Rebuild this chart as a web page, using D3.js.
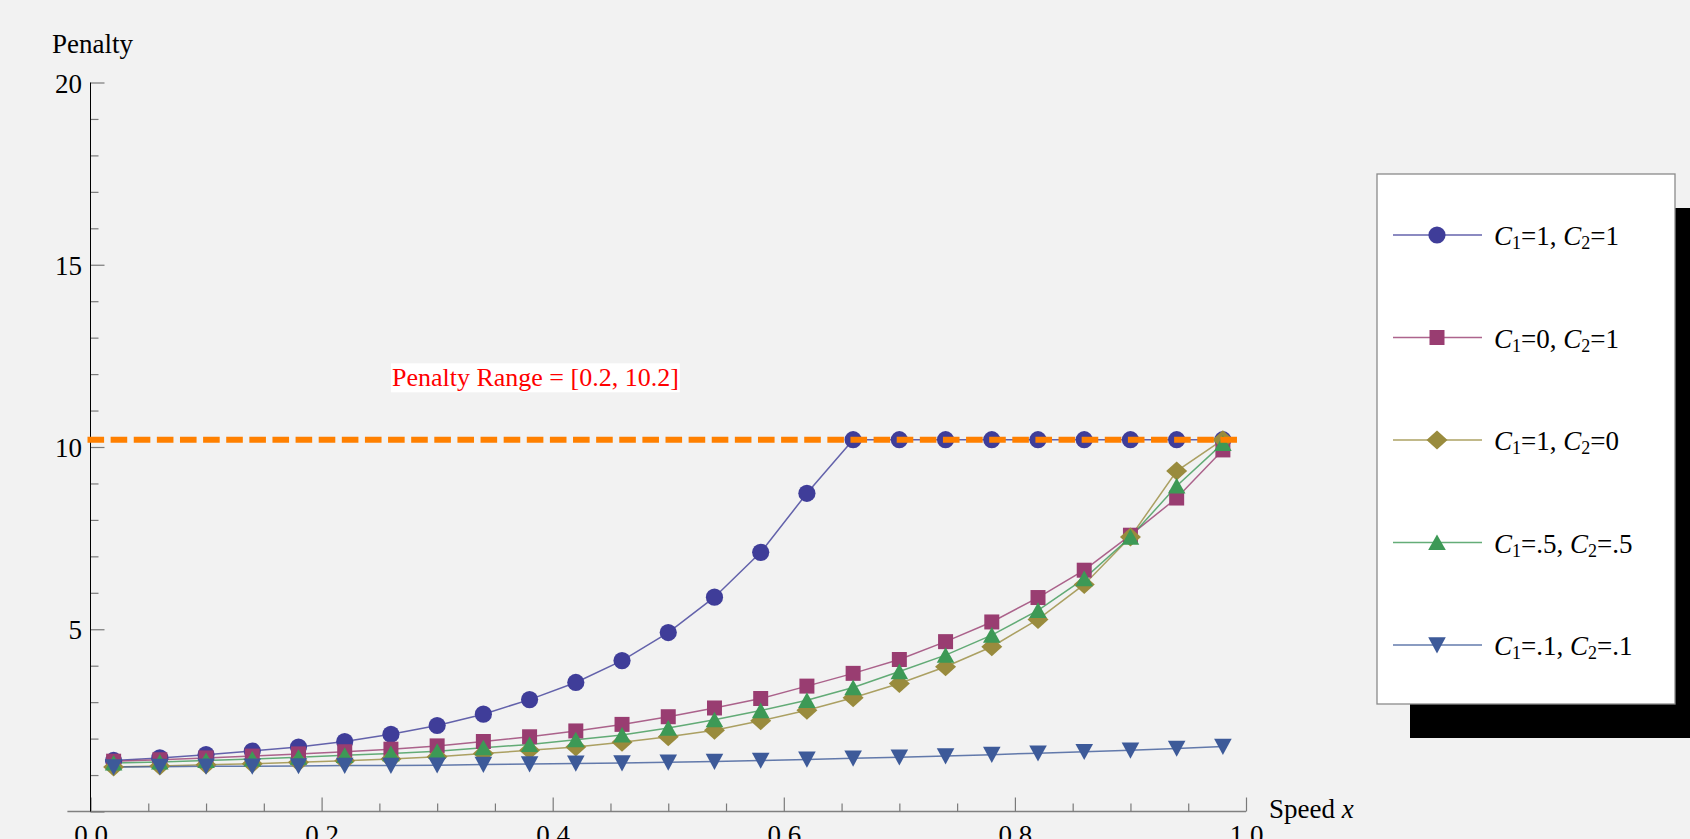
<!DOCTYPE html>
<html>
<head>
<meta charset="utf-8">
<script src="https://cdn.jsdelivr.net/npm/d3@7"></script>
<style>
    body { margin: 0; background: #f2f2f2; }
    svg { display: block; font-family: "Liberation Serif", "Times New Roman", serif; }
</style>
</head>
<body>
<div id="chart"></div>
<script>
let speedX = [0.02, 0.06, 0.10, 0.14, 0.18, 0.22, 0.26, 0.30, 0.34, 0.38, 0.42, 0.46, 0.50,
    0.54, 0.58, 0.62, 0.66, 0.70, 0.74, 0.78, 0.82, 0.86, 0.90, 0.94, 0.98];

// one array per curve
let penaltyC1_1_C2_1 = [1.40, 1.47, 1.56, 1.66, 1.77, 1.92, 2.12, 2.36, 2.67, 3.07, 3.54, 4.14, 4.91,
    5.88, 7.11, 8.73, 10.2, 10.2, 10.2, 10.2, 10.2, 10.2, 10.2, 10.2, 10.2];
let penaltyC1_0_C2_1 = [1.38, 1.42, 1.47, 1.52, 1.58, 1.64, 1.71, 1.80, 1.92, 2.05, 2.21, 2.39, 2.60,
    2.84, 3.10, 3.44, 3.79, 4.17, 4.66, 5.20, 5.87, 6.62, 7.58, 8.60, 9.92];
let penaltyC1_1_C2_0 = [1.22, 1.25, 1.28, 1.31, 1.35, 1.39, 1.44, 1.50, 1.59, 1.68, 1.77, 1.90, 2.05,
    2.23, 2.49, 2.78, 3.12, 3.51, 3.97, 4.52, 5.27, 6.23, 7.53, 9.34, 10.2];
let penaltyC1_5_C2_5 = [1.33, 1.36, 1.40, 1.44, 1.49, 1.54, 1.59, 1.65, 1.75, 1.84, 1.97, 2.10, 2.29,
    2.52, 2.77, 3.05, 3.40, 3.84, 4.29, 4.84, 5.52, 6.39, 7.53, 8.93, 10.1];
let penaltyC1_1_C2_1small = [1.22, 1.23, 1.24, 1.24, 1.25, 1.26, 1.26, 1.27, 1.29, 1.30, 1.32, 1.33, 1.35,
    1.37, 1.40, 1.43, 1.46, 1.49, 1.52, 1.56, 1.60, 1.64, 1.68, 1.73, 1.78];

let legendC1 = ["1", "0", "1", ".5", ".1"];
let legendC2 = ["1", "1", "0", ".5", ".1"];

let penaltyCap = 10.2;
let capLineX = [0, 0.99];
let rangeNote = "Penalty Range = [0.2, 10.2]";
let rangeNoteAt = [0.385, 11.9];

let xTickValues = [0, 0.2, 0.4, 0.6, 0.8, 1.0];
let xTickLabels = ["0.0", "0.2", "0.4", "0.6", "0.8", "1.0"];
let xMinorTicks = [0.05, 0.10, 0.15, 0.25, 0.30, 0.35, 0.45, 0.50, 0.55, 0.65, 0.70, 0.75, 0.85, 0.90, 0.95];
let yTickValues = [0, 5, 10, 15, 20];
let yTickLabels = ["", "5", "10", "15", "20"];
let yMinorTicks = [1, 2, 3, 4, 6, 7, 8, 9, 11, 12, 13, 14, 16, 17, 18, 19];

let series = [penaltyC1_1_C2_1, penaltyC1_0_C2_1, penaltyC1_1_C2_0, penaltyC1_5_C2_5, penaltyC1_1_C2_1small];
let colors = ["#3f3d99", "#993d71", "#998b3d", "#3d9956", "#3d5a99"];

// marker shapes (custom d3 symbol types)
let shapes = [
    { draw: function (c) { c.moveTo(8.6, 0); c.arc(0, 0, 8.6, 0, 2 * Math.PI); } },
    { draw: function (c) { c.rect(-7.5, -7.5, 15, 15); } },
    { draw: function (c) { c.moveTo(0, -9.5); c.lineTo(10.5, 0); c.lineTo(0, 9.5); c.lineTo(-10.5, 0); c.closePath(); } },
    { draw: function (c) { c.moveTo(0, -8); c.lineTo(8.8, 7.6); c.lineTo(-8.8, 7.6); c.closePath(); } },
    { draw: function (c) { c.moveTo(0, 8.4); c.lineTo(8.8, -7.8); c.lineTo(-8.8, -7.8); c.closePath(); } }
];

let width = 1690, height = 839;

let svg = d3.select("#chart")
    .append("svg")
    .attr("width", width)
    .attr("height", height);

svg.append("rect")
    .attr("width", width)
    .attr("height", height)
    .attr("fill", "#f2f2f2");

let x = d3.scaleLinear().domain([0, 1]).range([90.5, 1246]);
let y = d3.scaleLinear().domain([0, 20]).range([811.5, 82.5]);

// x axis line runs a little past the origin on the left
svg.append("line")
    .attr("x1", x(-0.02)).attr("x2", x(1))
    .attr("y1", y(0)).attr("y2", y(0))
    .attr("stroke", "#808080")
    .attr("stroke-width", 1.4);

function styleAxis(g) {
    g.select(".domain").remove();
    g.selectAll(".tick line").attr("stroke", "#7a7a7a").attr("stroke-width", 1.2);
    g.selectAll(".tick text").attr("fill", "#000");
    g.attr("font-family", null).attr("font-size", 27);
}

svg.append("g")
    .attr("transform", "translate(0," + y(0) + ")")
    .call(d3.axisBottom(x).tickValues(xMinorTicks).tickSize(-8).tickFormat(""))
    .call(styleAxis);

svg.append("g")
    .attr("transform", "translate(0," + y(0) + ")")
    .call(d3.axisBottom(x).tickValues(xTickValues).tickSize(-14).tickPadding(13)
        .tickFormat(function (d, i) { return xTickLabels[i]; }))
    .call(styleAxis);

svg.append("g")
    .attr("transform", "translate(" + x(0) + ",0)")
    .call(d3.axisLeft(y).tickValues(yMinorTicks).tickSize(-8).tickFormat(""))
    .call(styleAxis);

let yAxis = svg.append("g")
    .attr("transform", "translate(" + x(0) + ",0)")
    .call(d3.axisLeft(y).tickValues(yTickValues).tickSize(-14).tickPadding(8.5)
        .tickFormat(function (d, i) { return yTickLabels[i]; }))
    .call(styleAxis);
yAxis.selectAll(".tick text").attr("dy", "0.36em");

svg.append("line")
    .attr("x1", x(0)).attr("x2", x(0))
    .attr("y1", y(0)).attr("y2", y(20))
    .attr("stroke", "#000")
    .attr("stroke-width", 1);

svg.append("text")
    .attr("x", 52)
    .attr("y", 53)
    .attr("font-size", 27)
    .text("Penalty");

let xLabel = svg.append("text")
    .attr("x", 1269)
    .attr("y", 818)
    .attr("font-size", 27);
xLabel.append("tspan").text("Speed ");
xLabel.append("tspan").attr("font-style", "italic").text("x");

// curves
let line = d3.line()
    .x(function (d, i) { return x(speedX[i]); })
    .y(function (d) { return y(d); });

series.forEach(function (s, k) {
    svg.append("path")
        .attr("d", line(s))
        .attr("fill", "none")
        .attr("stroke", colors[k])
        .attr("stroke-opacity", 0.8)
        .attr("stroke-width", 1.5);
});

series.forEach(function (s, k) {
    svg.append("g")
        .selectAll("path")
        .data(s)
        .enter()
        .append("path")
        .attr("d", d3.symbol().type(shapes[k]))
        .attr("transform", function (d, i) { return "translate(" + x(speedX[i]) + "," + y(d) + ")"; })
        .attr("fill", colors[k]);
});

// cap line
svg.append("path")
    .attr("d", d3.line().x(function (d) { return x(d); }).y(function () { return y(penaltyCap); })(capLineX))
    .attr("fill", "none")
    .attr("stroke", "#ff8000")
    .attr("stroke-width", 6)
    .attr("stroke-linecap", "square")
    .attr("stroke-dasharray", "10.6,12.52");

let note = svg.append("g");
let noteText = note.append("text")
    .attr("x", x(rangeNoteAt[0]))
    .attr("y", y(rangeNoteAt[1]))
    .attr("dy", "0.33em")
    .attr("text-anchor", "middle")
    .attr("font-size", 26)
    .attr("fill", "#ff0000")
    .text(rangeNote);
let nb = noteText.node().getBBox();
note.insert("rect", "text")
    .attr("x", nb.x - 1)
    .attr("y", nb.y)
    .attr("width", nb.width + 2)
    .attr("height", nb.height)
    .attr("fill", "#fff");

// legend
let legend = svg.append("g");
legend.append("rect")
    .attr("x", 1410).attr("y", 208)
    .attr("width", 300).attr("height", 530)
    .attr("fill", "#000");
legend.append("rect")
    .attr("x", 1377).attr("y", 174)
    .attr("width", 298).attr("height", 530)
    .attr("fill", "#fff")
    .attr("stroke", "#8a8a8a")
    .attr("stroke-width", 1.3);

let rowY = d3.scalePoint().domain(d3.range(series.length)).range([235, 645]);

series.forEach(function (s, k) {
    let ry = rowY(k);
    legend.append("line")
        .attr("x1", 1393).attr("x2", 1482)
        .attr("y1", ry).attr("y2", ry)
        .attr("stroke", colors[k])
        .attr("stroke-opacity", 0.8)
        .attr("stroke-width", 1.5);
    legend.append("path")
        .attr("d", d3.symbol().type(shapes[k]))
        .attr("transform", "translate(1437," + ry + ")")
        .attr("fill", colors[k]);
    let t = legend.append("text")
        .attr("x", 1494)
        .attr("y", ry + 10)
        .attr("font-size", 27);
    t.append("tspan").attr("font-style", "italic").text("C");
    t.append("tspan").attr("font-size", 18).attr("dy", 4).text("1");
    t.append("tspan").attr("dy", -4).text("=" + legendC1[k] + ", ");
    t.append("tspan").attr("font-style", "italic").text("C");
    t.append("tspan").attr("font-size", 18).attr("dy", 4).text("2");
    t.append("tspan").attr("dy", -4).text("=" + legendC2[k]);
});
</script>
</body>
</html>
